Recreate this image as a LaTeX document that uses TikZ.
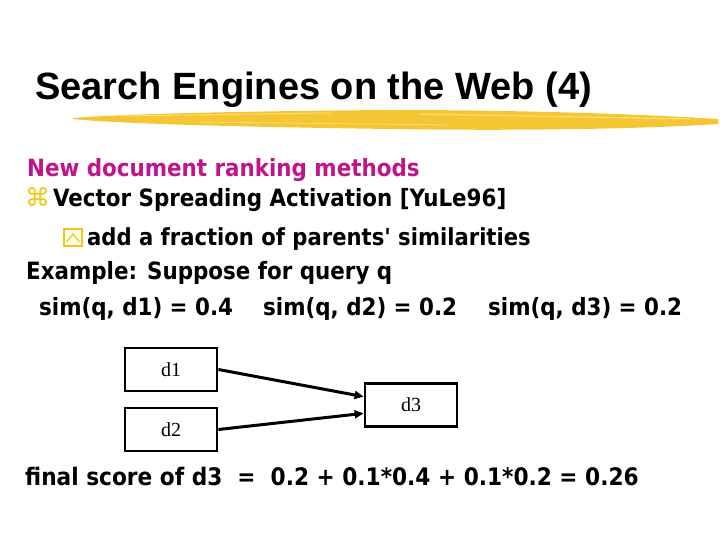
\documentclass[tikz,border=0pt]{standalone}
\usepackage{fontspec}
\setmainfont{DejaVu Sans Condensed}
\newfontfamily\bodyfont{DejaVu Sans Condensed}
\newfontfamily\titlefont{Liberation Sans}
\newfontfamily\boxfont{Liberation Serif}
\newfontfamily\symfont{DejaVu Sans}
\usepackage{tikz}
\usetikzlibrary{arrows.meta}

\definecolor{headmagenta}{RGB}{192,20,140}
\definecolor{bulletyellow}{RGB}{238,200,20}
\definecolor{brushyellow}{RGB}{244,198,52}
\definecolor{brushlight}{RGB}{250,222,110}

\tikzset{
  line/.style={anchor=base west,inner sep=0pt,font=\bodyfont\bfseries\fontsize{23.8}{28}\selectfont},
  docbox/.style={draw,line width=2.8pt,minimum width=92pt,minimum height=43pt,
    inner sep=0pt,font=\boxfont\fontsize{20}{24}\selectfont},
  link/.style={line width=3pt,-{Triangle[length=9pt,width=8pt]}}
}

\begin{document}
\begin{tikzpicture}[x=1pt,y=-1pt]
\useasboundingbox (0,0) rectangle (720,540);

%title
\node[anchor=base west,inner sep=0pt,font=\titlefont\bfseries\fontsize{38}{44}\selectfont] (title) at (35,100) {Search Engines on the Web (4)};

%brush stroke under the title
\fill[brushyellow] (73,118) .. controls (120,114) and (250,111) .. (390,110)
  .. controls (520,110) and (640,114) .. (718,119) -- (718,124)
  .. controls (640,129) and (520,131) .. (390,129)
  .. controls (250,127) and (120,124) .. (73,119) -- cycle;
\draw[brushlight,line width=1pt] (120,116) -- (330,113);
\draw[brushlight,line width=1.2pt] (420,114) -- (690,119);
\draw[brushlight,line width=0.8pt] (200,122) -- (450,125);

%text lines
\node[line,text=headmagenta] (head) at (27,177) {New document ranking methods};
\node[anchor=base west,inner sep=0pt,text=bulletyellow,font=\symfont\fontsize{25}{28}\selectfont] (bulA) at (25,207) {⌘};
\node[line] (lineA) at (53,207) {Vector Spreading Activation [YuLe96]};

%second level bullet
\draw[bulletyellow,fill=yellow!8,line width=1.4pt] (64,229) rectangle (82,246);
\draw[bulletyellow,line width=1.2pt] (66.5,242) -- (73,234) -- (79.5,242);
\node[line,font=\bodyfont\bfseries\fontsize{23.5}{28}\selectfont] (lineB) at (87,245) {add a fraction of parents' similarities};

\node[line] (lineC) at (26,279) {Example: Suppose for query q};
\node[line] (simA) at (39,315) {sim(q, d1) = 0.4};
\node[line] (simB) at (263,315) {sim(q, d2) = 0.2};
\node[line] (simC) at (488,315) {sim(q, d3) = 0.2};

%graph
\node[docbox] (d1) at (171,369.5) {d1};
\node[docbox] (d2) at (171,429.5) {d2};
\node[docbox] (d3) at (411,405) {d3};
\draw[link] (d1.east) -- (d3.170);
\draw[link] (d2.east) -- (d3.190);

\node[line,font=\bodyfont\bfseries\fontsize{24.1}{28}\selectfont] (score) at (25,485) {final score of d3 \ =\ \ 0.2 + 0.1*0.4 + 0.1*0.2 = 0.26};
\end{tikzpicture}
\end{document}
